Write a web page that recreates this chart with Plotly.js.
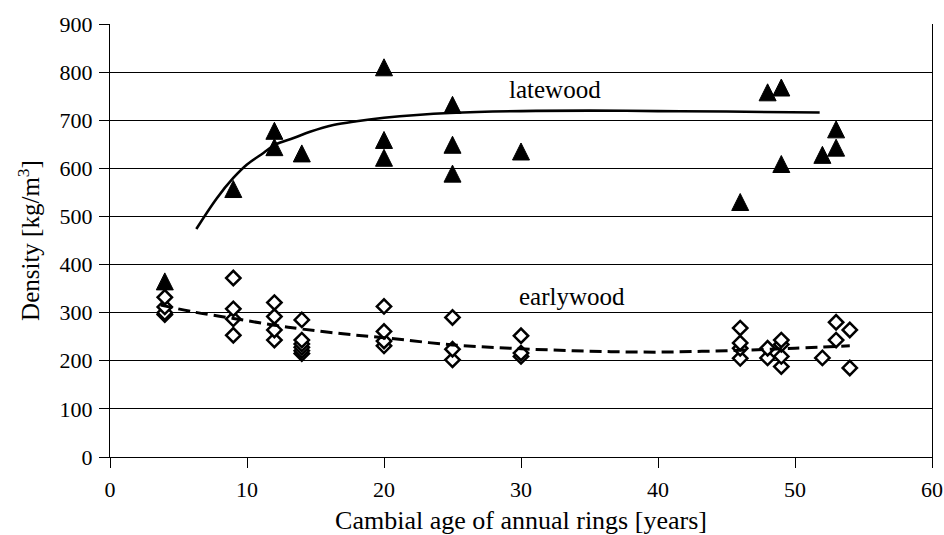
<!DOCTYPE html>
<html>
<head>
<meta charset="utf-8">
<script src="https://cdn.plot.ly/plotly-3.0.1.min.js"></script>
<style>html,body{margin:0;padding:0;background:#fff;}#chart{width:944px;height:535px;}</style>
</head>
<body>
<div id="chart"></div>
<script>
// Latewood measurements
var lateAge = [4, 9, 12, 12, 14, 20, 20, 20, 25, 25, 25, 30, 46, 48, 49, 49, 52, 53, 53];
var lateDensity = [365, 557, 644, 678, 631, 622, 659, 810, 589, 649, 732, 635, 530, 758, 609, 768, 628, 643, 681];

// Earlywood measurements
var earlyAge = [4, 4, 4, 4, 9, 9, 9, 9, 12, 12, 12, 12, 14, 14, 14, 14, 14, 14,
                20, 20, 20, 20, 25, 25, 25, 30, 30, 30, 46, 46, 46, 46, 48, 48,
                49, 49, 49, 49, 52, 53, 53, 54, 54];
var earlyDensity = [296, 300, 312, 332, 253, 287, 308, 372, 243, 264, 292, 321, 215, 221, 228, 235, 243, 285,
                    231, 241, 261, 313, 202, 224, 290, 209, 216, 252, 205, 226, 237, 268, 206, 226,
                    188, 209, 234, 243, 206, 243, 280, 185, 264];

// Trend lines
var lateFitAge = [6.3, 7.8, 9, 10, 11.2, 12.1, 13.4, 14.6, 16.3, 18, 20, 22.4, 24.8, 30, 35, 40, 45, 51.8];
var lateFitDensity = [474, 538, 580, 608, 632, 650, 663, 676, 690, 698, 705, 711, 715, 719, 720, 719, 718, 716];
var earlyFitAge = [3.7, 6, 9, 12, 14, 17, 20, 25, 30, 35, 40, 45, 50, 54];
var earlyFitDensity = [316, 302, 288, 274, 266, 256, 248, 233, 225, 220, 218, 221, 226, 231];

var xTicks = [0, 10, 20, 30, 40, 50, 60];
var yTicks = [0, 100, 200, 300, 400, 500, 600, 700, 800, 900];

var FONT = "Liberation Serif, DejaVu Serif, serif";
var triSize = 17;

var traces = [
  {
    x: earlyAge, y: earlyDensity, type: 'scatter', mode: 'markers', name: 'earlywood',
    marker: {symbol: 'diamond', size: 11, color: '#ffffff', line: {color: '#000000', width: 2.5}},
    cliponaxis: false
  },
  {
    x: lateAge, y: lateDensity, type: 'scatter', mode: 'markers', name: 'latewood',
    marker: {symbol: 'arrow-down', angle: 180, standoff: triSize / 2, size: triSize,
             color: '#000000', line: {color: '#000000', width: 1}},
    cliponaxis: false
  },
  {
    x: lateFitAge, y: lateFitDensity, type: 'scatter', mode: 'lines', name: 'latewood trend',
    line: {color: '#000000', width: 2.6, shape: 'spline'}
  },
  {
    x: earlyFitAge, y: earlyFitDensity, type: 'scatter', mode: 'lines', name: 'earlywood trend',
    line: {color: '#000000', width: 3, dash: '12px,6px', shape: 'spline'}
  }
];

var layout = {
  width: 944, height: 535,
  margin: {l: 110, r: 12, t: 24, b: 78, pad: 0},
  paper_bgcolor: '#ffffff', plot_bgcolor: '#ffffff',
  showlegend: false,
  font: {family: FONT, color: '#000000', size: 22},
  xaxis: {
    range: [0, 60], tickvals: xTicks, ticktext: xTicks.map(String),
    showgrid: false, zeroline: false,
    showline: true, linecolor: '#000000', linewidth: 1,
    ticks: 'outside', ticklen: 10, tickcolor: '#000000', tickwidth: 1,
    ticklabelstandoff: 3,
    tickfont: {family: FONT, size: 22, color: '#000000'},
    title: {text: 'Cambial age of annual rings [years]', font: {family: FONT, size: 26, color: '#000000'}, standoff: 10}
  },
  yaxis: {
    range: [0, 900], tickvals: yTicks, ticktext: yTicks.map(String),
    showgrid: true, gridcolor: '#000000', gridwidth: 1,
    zeroline: false,
    showline: true, mirror: true, linecolor: '#000000', linewidth: 1,
    ticks: 'outside', ticklen: 10, tickcolor: '#000000', tickwidth: 1,
    ticklabelstandoff: 2,
    tickfont: {family: FONT, size: 22, color: '#000000'},
    title: {text: 'Density [kg/m<sup>3</sup>]', font: {family: FONT, size: 25, color: '#000000'}, standoff: 12}
  },
  annotations: [
    {x: 32.5, y: 764, xref: 'x', yref: 'y', text: 'latewood', showarrow: false,
     font: {family: FONT, size: 25, color: '#000000'}},
    {x: 33.7, y: 333, xref: 'x', yref: 'y', text: 'earlywood', showarrow: false,
     font: {family: FONT, size: 25, color: '#000000'}}
  ]
};

Plotly.newPlot('chart', traces, layout, {displayModeBar: false, staticPlot: true});
</script>
</body>
</html>
